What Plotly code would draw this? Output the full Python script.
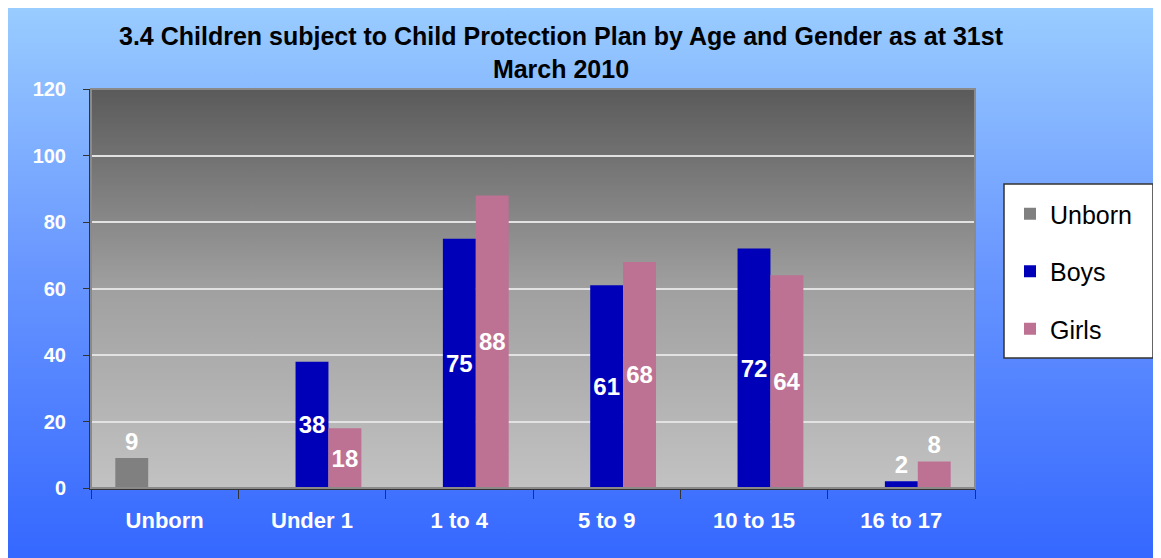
import base64
import plotly.graph_objects as go

categories = ["Unborn", "Under 1", "1 to 4", "5 to 9", "10 to 15", "16 to 17"]
unborn = [9, None, None, None, None, None]
boys = [None, 38, 75, 61, 72, 2]
girls = [None, 18, 88, 68, 64, 8]
y_ticks = [0, 20, 40, 60, 80, 100, 120]
title_text = "3.4 Children subject to Child Protection Plan by Age and Gender as at 31st<br>March 2010"

W, H = 1161, 558
OFF = 8  # page body margin
L, T = 91 - OFF, 89 - OFF
R, B = W - (975 - OFF), H - (488 - OFF)
pw, ph = W - L - R, H - T - B


def svg_grad(stops):
    st = "".join(f'<stop offset="{o}" stop-color="{c}"/>' for o, c in stops)
    svg = ('<svg xmlns="http://www.w3.org/2000/svg" width="100" height="100" preserveAspectRatio="none">'
           f'<defs><linearGradient id="g" x1="0" y1="0" x2="0" y2="1">{st}</linearGradient></defs>'
           '<rect width="100" height="100" fill="url(#g)"/></svg>')
    return "data:image/svg+xml;base64," + base64.b64encode(svg.encode()).decode()


def pos_mode(vals):
    return ["outside" if (v is not None and v < 10) else "inside" for v in vals]


def lbl(vals):
    return [("" if v is None else str(v)) for v in vals]


LBL_FONT = dict(color="white", size=24, family="Liberation Sans", weight="bold")

fig = go.Figure()
series = [("Unborn", unborn, "#808080"), ("Boys", boys, "#0000b8"), ("Girls", girls, "#bd7193")]
for name, vals, col in series:
    fig.add_trace(go.Bar(
        name=name, x=categories, y=vals, marker=dict(color=col, line=dict(width=0)),
        text=lbl(vals), textposition=pos_mode(vals), insidetextanchor="middle", textangle=0,
        textfont=LBL_FONT, outsidetextfont=LBL_FONT, insidetextfont=LBL_FONT,
        constraintext="none", cliponaxis=False, legendgroup=name, hoverinfo="x+y+name",
    ))

images = [
    dict(source=svg_grad([(0, "#99ccff"), (0.45, "#6a98ff"), (1, "#3366ff")]),
         xref="paper", yref="paper", x=-L / pw, y=1 + T / ph,
         sizex=W / pw, sizey=H / ph, sizing="stretch",
         xanchor="left", yanchor="top", layer="below"),
    dict(source=svg_grad([(0, "#5a5a5a"), (0.5, "#a0a0a0"), (1, "#c2c2c2")]),
         xref="paper", yref="paper", x=0, y=1, sizex=1, sizey=1, sizing="stretch",
         xanchor="left", yanchor="top", layer="below"),
]

# legend box (decoration) in page pixels of the reference
lx0, lx1, ly0, ly1 = 1004 - OFF, 1153 - OFF, 184 - OFF, 358 - OFF


def px_x(p):
    return (p - L) / pw


def px_y(p):
    return 1 - (p - T) / ph


fig.update_layout(
    width=W, height=H,
    margin=dict(l=L, r=R, t=T, b=B, pad=0),
    paper_bgcolor="#3366ff", plot_bgcolor="rgba(0,0,0,0)",
    images=images,
    barmode="group", bargap=0.33, bargroupgap=0,
    font=dict(family="Liberation Sans", color="black"),
    title=dict(text=title_text, x=(561 - OFF) / W, xref="container", xanchor="center",
               y=1 - 37 / H, yref="container", yanchor="top",
               font=dict(size=25, family="Liberation Sans", color="black", weight="bold")),
    legend=dict(x=px_x(lx0 + 6), xanchor="left", y=px_y(ly0 + 7), yanchor="top",
                bgcolor="rgba(0,0,0,0)", borderwidth=0,
                font=dict(size=25, family="Liberation Sans", color="black"),
                traceorder="grouped", tracegroupgap=22, itemwidth=30),
    showlegend=True,
)
fig.update_yaxes(range=[0, 120], tickvals=y_ticks, showgrid=True, gridcolor="#e2e2e2", gridwidth=2,
                 ticks="outside", ticklen=6, tickcolor="#333333", showline=True, linecolor="#333333",
                 linewidth=2, zeroline=False, ticklabelstandoff=13,
                 tickfont=dict(size=20, color="white", family="Liberation Sans", weight="bold"))
fig.update_xaxes(tickson="boundaries", ticks="outside", ticklen=9, tickcolor="#333333",
                 showline=True, linecolor="#333333", linewidth=2, showgrid=False, ticklabelstandoff=12,
                 tickfont=dict(size=22, color="white", family="Liberation Sans", weight="bold"))
fig.add_shape(type="rect", xref="paper", yref="paper", x0=0, x1=1, y0=0, y1=1,
              line=dict(color="#8a8a8a", width=2), layer="above")
fig.add_shape(type="rect", xref="paper", yref="paper", x0=px_x(lx0), x1=px_x(lx1),
              y0=px_y(ly1), y1=px_y(ly0), fillcolor="white",
              line=dict(color="#333333", width=1.5), layer="above")

fig.write_html("out.html")
